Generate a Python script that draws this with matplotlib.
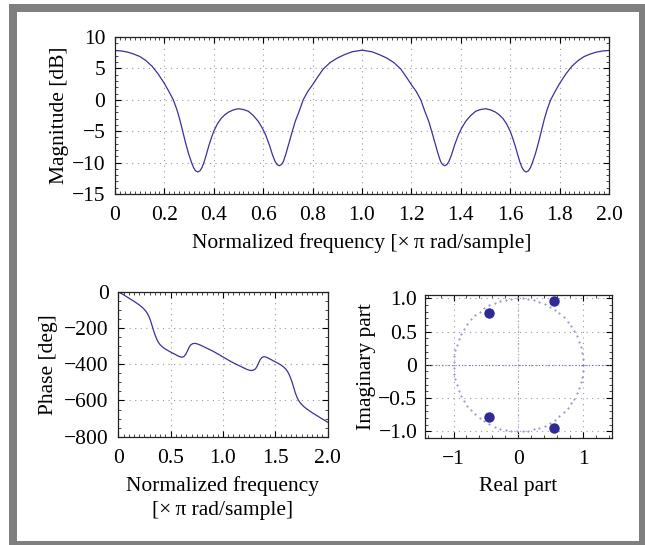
import matplotlib
matplotlib.use("Agg")
import matplotlib.pyplot as plt
from matplotlib.patches import Rectangle
from matplotlib.ticker import AutoMinorLocator
import numpy as np

# ---------------- data ----------------
mag_freq = [0.00, 0.025, 0.05, 0.075, 0.10, 0.125, 0.15, 0.175, 0.20, 0.22, 0.236, 0.25,
            0.262, 0.274, 0.286, 0.298, 0.31, 0.318, 0.326, 0.335, 0.344, 0.352, 0.36,
            0.37, 0.38, 0.39, 0.40, 0.415, 0.43, 0.445, 0.46, 0.48, 0.50, 0.52, 0.54,
            0.56, 0.58, 0.595, 0.61, 0.625, 0.638, 0.648, 0.656, 0.665, 0.674, 0.682,
            0.692, 0.705, 0.718, 0.73, 0.745, 0.762, 0.78, 0.80, 0.82, 0.843, 0.87,
            0.90, 0.93, 0.96, 1.00,
            1.04, 1.07, 1.10, 1.13, 1.157, 1.18, 1.20, 1.22, 1.238, 1.255, 1.27, 1.282,
            1.295, 1.308, 1.318, 1.326, 1.335, 1.344, 1.352, 1.362, 1.375, 1.39, 1.405,
            1.42, 1.44, 1.46, 1.48, 1.50, 1.52, 1.54, 1.555, 1.57, 1.585, 1.60, 1.61,
            1.62, 1.63, 1.64, 1.648, 1.656, 1.665, 1.674, 1.682, 1.69, 1.702, 1.714,
            1.726, 1.738, 1.75, 1.764, 1.78, 1.80, 1.825, 1.85, 1.875, 1.90, 1.925,
            1.95, 1.975, 2.00]
mag_db = [7.85, 7.78, 7.6, 7.3, 6.9, 6.25, 5.35, 4.1, 2.6, 1.2, 0.0, -1.5,
          -3.1, -5.0, -6.9, -8.6, -10.0, -10.8, -11.3, -11.5, -11.3, -10.8, -10.0,
          -8.7, -7.3, -6.1, -5.0, -3.8, -2.95, -2.37, -1.95, -1.6, -1.42, -1.55, -1.83,
          -2.5, -3.43, -4.4, -5.6, -7.2, -8.8, -9.8, -10.3, -10.5, -10.3, -9.8,
          -8.6, -6.8, -5.0, -3.4, -1.9, 0.0, 1.3, 2.4, 3.6, 4.9, 5.9,
          6.65, 7.2, 7.65, 7.9,
          7.65, 7.2, 6.65, 5.9, 4.9, 3.6, 2.4, 1.3, 0.0, -1.9, -3.4, -5.0,
          -6.8, -8.6, -9.8, -10.3, -10.5, -10.3, -9.8, -8.8, -7.2, -5.6, -4.4,
          -3.43, -2.5, -1.83, -1.55, -1.42, -1.6, -1.95, -2.37, -2.95, -3.8, -5.0, -6.1,
          -7.3, -8.7, -10.0, -10.8, -11.3, -11.5, -11.3, -10.8, -10.0, -8.6, -6.9,
          -5.0, -3.1, -1.5, 0.0, 1.2, 2.6, 4.1, 5.35, 6.25, 6.9, 7.3,
          7.6, 7.78, 7.85]

ph_freq = [0.00, 0.05, 0.10, 0.15, 0.20, 0.23, 0.26, 0.28, 0.295, 0.31, 0.325, 0.34,
           0.355, 0.37, 0.385, 0.40, 0.42, 0.45, 0.50, 0.55, 0.58, 0.60, 0.615, 0.63,
           0.645, 0.66, 0.675, 0.69, 0.71, 0.735, 0.77, 0.80, 0.85, 0.90, 0.95, 1.00,
           1.05, 1.10, 1.15, 1.20, 1.23, 1.265, 1.29, 1.31, 1.325, 1.34, 1.355, 1.37,
           1.385, 1.40, 1.42, 1.45, 1.50, 1.55, 1.58, 1.60, 1.615, 1.63, 1.645, 1.66,
           1.675, 1.69, 1.705, 1.72, 1.74, 1.77, 1.80, 1.85, 1.90, 1.95, 2.00]
ph_deg = [0, -17, -35, -53, -73, -87, -105, -122, -140, -163, -192, -220,
          -245, -265, -281, -293, -304, -317, -333, -348, -357, -361, -361, -356,
          -345, -327, -308, -294, -287, -285, -291, -299, -313, -327, -343, -360,
          -377, -393, -407, -421, -429, -435, -433, -426, -412, -393, -375, -364,
          -359, -359, -363, -372, -387, -403, -416, -427, -439, -455, -475, -500,
          -528, -557, -580, -598, -615, -633, -647, -667, -685, -703, -720]

zero_re = [-0.45, -0.45, 0.545, 0.545]
zero_im = [0.78, -0.78, 0.955, -0.955]

mag_xticks = [0, 0.2, 0.4, 0.6, 0.8, 1.0, 1.2, 1.4, 1.6, 1.8, 2.0]
mag_xticklabels = ["0", "0.2", "0.4", "0.6", "0.8", "1.0", "1.2", "1.4", "1.6", "1.8", "2.0"]
mag_yticks = [-15, -10, -5, 0, 5, 10]
ph_xticks = [0, 0.5, 1.0, 1.5, 2.0]
ph_xticklabels = ["0", "0.5", "1.0", "1.5", "2.0"]
ph_yticks = [-800, -600, -400, -200, 0]
pz_xticks = [-1, 0, 1]
pz_yticks = [-1.0, -0.5, 0, 0.5, 1.0]
pz_yticklabels = ["\u22121.0", "\u22120.5", "0", "0.5", "1.0"]

# ---------------- style ----------------
FS = 15.5
plt.rcParams['font.family'] = ['Liberation Serif', 'DejaVu Serif']
plt.rcParams['font.size'] = FS
plt.rcParams['axes.unicode_minus'] = True

LINE = '#38329c'
GRID = '#9a9a9a'

W, H = 645, 545
fig = plt.figure(figsize=(W / 100, H / 100), dpi=100)
fig.patch.set_facecolor('white')


def ax_px(l, t, r, b):
    return [l / W, 1 - b / H, (r - l) / W, (b - t) / H]


def style(ax, xminor, yminor, ypad=7):
    ax.tick_params(which='both', direction='in', top=True, right=True, labelsize=FS)
    ax.tick_params(axis='x', which='both', pad=8.5)
    ax.tick_params(axis='y', which='both', pad=ypad)
    ax.tick_params(which='major', length=4, width=0.8)
    ax.tick_params(which='minor', length=2, width=0.5)
    ax.xaxis.set_minor_locator(AutoMinorLocator(xminor))
    ax.yaxis.set_minor_locator(AutoMinorLocator(yminor))
    ax.grid(True, which='major', linestyle=(0, (1, 4)), color=GRID, linewidth=0.8)
    for s in ax.spines.values():
        s.set_linewidth(0.9)
        s.set_color('#222222')


XL = "Normalized frequency [\u00d7\u2009\u03c0 rad/sample]"

# top: magnitude
ax1 = fig.add_axes(ax_px(115, 37, 609, 194))
ax1.plot(mag_freq, mag_db, color=LINE, linewidth=0.9)
ax1.set_xlim(0, 2)
ax1.set_ylim(-15, 10)
ax1.set_xticks(mag_xticks)
ax1.set_xticklabels(mag_xticklabels)
ax1.set_yticks(mag_yticks)
style(ax1, 10, 5)
ax1.set_xlabel(XL, fontsize=FS, labelpad=6)
ax1.set_ylabel("Magnitude [dB]", fontsize=FS, labelpad=2)

# bottom-left: phase
ax2 = fig.add_axes(ax_px(118.3, 291.7, 327.7, 436.7))
ax2.plot(ph_freq, ph_deg, color=LINE, linewidth=0.9)
ax2.set_xlim(0, 2)
ax2.set_ylim(-800, 0)
ax2.set_xticks(ph_xticks)
ax2.set_xticklabels(ph_xticklabels)
ax2.set_yticks(ph_yticks)
style(ax2, 10, 4)
ax2.set_xlabel("Normalized frequency\n[\u00d7\u2009\u03c0 rad/sample]", fontsize=FS,
               labelpad=6, linespacing=1.35)
ax2.set_ylabel("Phase [deg]", fontsize=FS, labelpad=4)

# bottom-right: zero plot
ax3 = fig.add_axes(ax_px(425, 295, 611.7, 438))
t = np.linspace(0, 2 * np.pi, 72)
ax3.plot(np.cos(t), np.sin(t), linestyle='none', marker='.', markersize=1.0,
         color='#8884c8')
ax3.axhline(0, color='#6a66b8', linestyle=(0, (1, 2)), linewidth=0.8)
ax3.axvline(0, color='#a8a6d4', linestyle=(0, (1, 2)), linewidth=0.8)
ax3.plot(zero_re, zero_im, linestyle='none', marker='o', markersize=7.5,
         color='#2f2a96', markeredgewidth=0)
ax3.set_xlim(-1.44, 1.44)
ax3.set_ylim(-1.1, 1.05)
ax3.set_xticks(pz_xticks)
ax3.set_yticks(pz_yticks)
ax3.set_yticklabels(pz_yticklabels)
style(ax3, 5, 5, ypad=5.5)
ax3.set_xlabel("Real part", fontsize=FS, labelpad=6)
ax3.set_ylabel("Imaginary part", fontsize=FS, labelpad=2)

# grey frame
GRAY = '#7f7f7f'
for (x0, y0, x1, y1) in [(9, 4, 645, 12), (9, 4, 17, 545), (639, 4, 645, 545),
                         (9, 541, 645, 545)]:
    fig.add_artist(Rectangle((x0 / W, 1 - y1 / H), (x1 - x0) / W, (y1 - y0) / H,
                             transform=fig.transFigure, facecolor=GRAY,
                             edgecolor='none', zorder=10))

fig.savefig("out.png", dpi=100, facecolor='white')
